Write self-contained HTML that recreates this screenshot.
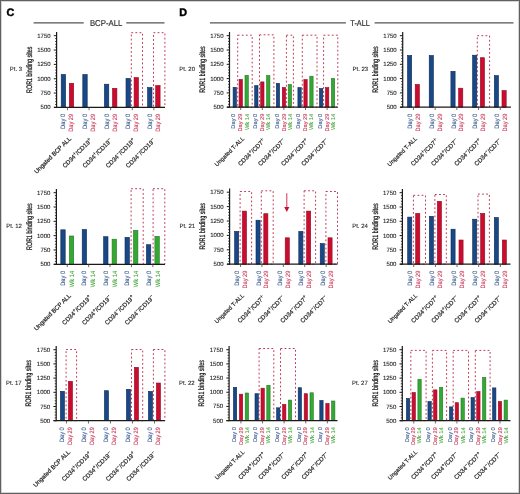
<!DOCTYPE html>
<html><head><meta charset="utf-8"><style>
html,body{margin:0;padding:0;background:#fff;}
body{width:520px;height:494px;overflow:hidden;position:relative;}
.bd{position:absolute;left:0;top:0;width:518px;height:492px;border:1px solid #606060;box-shadow:inset 0 0 0 1px #d4d4d4;}
svg{display:block;font-family:"Liberation Sans", sans-serif;filter:blur(0.45px);text-rendering:geometricPrecision;}
</style></head><body>
<svg width="520" height="494" viewBox="0 0 520 494">
<rect x="0" y="0" width="520" height="494" fill="#fff"/>
<text x="6.4" y="16.1" font-size="10.8" font-weight="bold" fill="#000" stroke="#000" stroke-width="0.45">C</text>
<text x="179.3" y="16.1" font-size="10.8" font-weight="bold" fill="#000" stroke="#000" stroke-width="0.45">D</text>
<line x1="33.6" y1="22.9" x2="83.7" y2="22.9" stroke="#555" stroke-width="1.1"/>
<line x1="126.3" y1="22.9" x2="164.5" y2="22.9" stroke="#555" stroke-width="1.1"/>
<text x="106.15" y="25.6" font-size="8.5" fill="#2a2a2a" stroke="#2a2a2a" stroke-width="0.15" text-anchor="middle" textLength="32.4" lengthAdjust="spacingAndGlyphs">BCP-ALL</text>
<line x1="209.9" y1="22.9" x2="345.9" y2="22.9" stroke="#555" stroke-width="1.1"/>
<line x1="374.6" y1="22.9" x2="513.5" y2="22.9" stroke="#555" stroke-width="1.1"/>
<text x="360.1" y="25.6" font-size="8.5" fill="#2a2a2a" stroke="#2a2a2a" stroke-width="0.15" text-anchor="middle" textLength="19.6" lengthAdjust="spacingAndGlyphs">T-ALL</text>
<rect x="131.3" y="32.7" width="11.2" height="74.7" fill="none" stroke="#c23656" stroke-width="1" stroke-dasharray="1.8 2.3"/>
<rect x="153.5" y="32.7" width="11.4" height="74.7" fill="none" stroke="#c23656" stroke-width="1" stroke-dasharray="1.8 2.3"/>
<rect x="61.2" y="74.5" width="4.4" height="32.9" fill="#184886" stroke="#0c2a56" stroke-width="0.6"/>
<rect x="69.3" y="83.3" width="4.4" height="24.1" fill="#cc0c2e" stroke="#900a24" stroke-width="0.6"/>
<rect x="82.8" y="74.5" width="4.4" height="32.9" fill="#184886" stroke="#0c2a56" stroke-width="0.6"/>
<rect x="104.4" y="84.2" width="4.4" height="23.2" fill="#184886" stroke="#0c2a56" stroke-width="0.6"/>
<rect x="112.5" y="88.3" width="4.4" height="19.1" fill="#cc0c2e" stroke="#900a24" stroke-width="0.6"/>
<rect x="126" y="78.4" width="4.4" height="29" fill="#184886" stroke="#0c2a56" stroke-width="0.6"/>
<rect x="134.1" y="77.6" width="4.4" height="29.8" fill="#cc0c2e" stroke="#900a24" stroke-width="0.6"/>
<rect x="147.6" y="87.5" width="4.4" height="19.9" fill="#184886" stroke="#0c2a56" stroke-width="0.6"/>
<rect x="155.7" y="85.5" width="4.4" height="21.9" fill="#cc0c2e" stroke="#900a24" stroke-width="0.6"/>
<line x1="56.6" y1="32" x2="56.6" y2="108" stroke="#1a1a1a" stroke-width="1.2"/>
<path d="M53.8 107.4H56.6M53.8 93.06H56.6M53.8 78.72H56.6M53.8 64.38H56.6M53.8 50.04H56.6M53.8 35.7H56.6" stroke="#1a1a1a" stroke-width="1.0" fill="none"/>
<path d="M55.1 104.53H56.6M55.1 101.66H56.6M55.1 98.8H56.6M55.1 95.93H56.6M55.1 90.19H56.6M55.1 87.32H56.6M55.1 84.46H56.6M55.1 81.59H56.6M55.1 75.85H56.6M55.1 72.98H56.6M55.1 70.12H56.6M55.1 67.25H56.6M55.1 61.51H56.6M55.1 58.64H56.6M55.1 55.78H56.6M55.1 52.91H56.6M55.1 47.17H56.6M55.1 44.3H56.6M55.1 41.44H56.6M55.1 38.57H56.6" stroke="#1a1a1a" stroke-width="0.8" fill="none"/>
<line x1="54" y1="107.4" x2="164.9" y2="107.4" stroke="#1a1a1a" stroke-width="1.2"/>
<path d="M67.45 107.4V110.2M89.05 107.4V110.2M110.65 107.4V110.2M132.25 107.4V110.2M153.85 107.4V110.2" stroke="#444" stroke-width="0.8" fill="none"/>
<text x="50.6" y="109.4" font-size="6" fill="#2a2a2a" stroke="#2a2a2a" stroke-width="0.12" text-anchor="end">500</text>
<text x="50.6" y="95.06" font-size="6" fill="#2a2a2a" stroke="#2a2a2a" stroke-width="0.12" text-anchor="end">750</text>
<text x="50.6" y="80.72" font-size="6" fill="#2a2a2a" stroke="#2a2a2a" stroke-width="0.12" text-anchor="end">1000</text>
<text x="50.6" y="66.38" font-size="6" fill="#2a2a2a" stroke="#2a2a2a" stroke-width="0.12" text-anchor="end">1250</text>
<text x="50.6" y="52.04" font-size="6" fill="#2a2a2a" stroke="#2a2a2a" stroke-width="0.12" text-anchor="end">1500</text>
<text x="50.6" y="37.7" font-size="6" fill="#2a2a2a" stroke="#2a2a2a" stroke-width="0.12" text-anchor="end">1750</text>
<text transform="translate(31.8,69.7) rotate(-90)" font-size="8" fill="#1a1a1a" stroke="#1a1a1a" stroke-width="0.25" text-anchor="middle" textLength="46.5" lengthAdjust="spacingAndGlyphs">ROR1 binding sites</text>
<text x="22.1" y="71.4" font-size="6" fill="#2a2a2a" stroke="#2a2a2a" stroke-width="0.1" text-anchor="end">Pt. 3</text>
<text transform="translate(65.3,113.9) rotate(-90)" font-size="6.3" fill="#36588c" stroke="#36588c" stroke-width="0.12" text-anchor="end" textLength="15.0" lengthAdjust="spacingAndGlyphs">Day 0</text>
<text transform="translate(73.4,113.9) rotate(-90)" font-size="6.3" fill="#c83a5a" stroke="#c83a5a" stroke-width="0.12" text-anchor="end" textLength="17.9" lengthAdjust="spacingAndGlyphs">Day 29</text>
<text transform="translate(86.9,113.9) rotate(-90)" font-size="6.3" fill="#36588c" stroke="#36588c" stroke-width="0.12" text-anchor="end" textLength="15.0" lengthAdjust="spacingAndGlyphs">Day 0</text>
<text transform="translate(95,113.9) rotate(-90)" font-size="6.3" fill="#c83a5a" stroke="#c83a5a" stroke-width="0.12" text-anchor="end" textLength="17.9" lengthAdjust="spacingAndGlyphs">Day 29</text>
<text transform="translate(108.5,113.9) rotate(-90)" font-size="6.3" fill="#36588c" stroke="#36588c" stroke-width="0.12" text-anchor="end" textLength="15.0" lengthAdjust="spacingAndGlyphs">Day 0</text>
<text transform="translate(116.6,113.9) rotate(-90)" font-size="6.3" fill="#c83a5a" stroke="#c83a5a" stroke-width="0.12" text-anchor="end" textLength="17.9" lengthAdjust="spacingAndGlyphs">Day 29</text>
<text transform="translate(130.1,113.9) rotate(-90)" font-size="6.3" fill="#36588c" stroke="#36588c" stroke-width="0.12" text-anchor="end" textLength="15.0" lengthAdjust="spacingAndGlyphs">Day 0</text>
<text transform="translate(138.2,113.9) rotate(-90)" font-size="6.3" fill="#c83a5a" stroke="#c83a5a" stroke-width="0.12" text-anchor="end" textLength="17.9" lengthAdjust="spacingAndGlyphs">Day 29</text>
<text transform="translate(151.7,113.9) rotate(-90)" font-size="6.3" fill="#36588c" stroke="#36588c" stroke-width="0.12" text-anchor="end" textLength="15.0" lengthAdjust="spacingAndGlyphs">Day 0</text>
<text transform="translate(159.8,113.9) rotate(-90)" font-size="6.3" fill="#c83a5a" stroke="#c83a5a" stroke-width="0.12" text-anchor="end" textLength="17.9" lengthAdjust="spacingAndGlyphs">Day 29</text>
<text transform="translate(71.55,139.2) rotate(-45)" font-size="6.1" fill="#262626" stroke="#262626" stroke-width="0.2" text-anchor="end">Ungated BCP ALL</text>
<text transform="translate(92.35,140.9) rotate(-45)" font-size="6.1" fill="#262626" stroke="#262626" stroke-width="0.2" text-anchor="end">CD34<tspan dy="-2.2" font-size="5">+</tspan><tspan dy="2.2">/CD19</tspan><tspan dy="-2.2" font-size="5">+</tspan></text>
<text transform="translate(112.45,140.9) rotate(-45)" font-size="6.1" fill="#262626" stroke="#262626" stroke-width="0.2" text-anchor="end">CD34<tspan dy="-2.2" font-size="5">+</tspan><tspan dy="2.2">/CD19</tspan><tspan dy="-2.2" font-size="5">−</tspan></text>
<text transform="translate(135.55,140.9) rotate(-45)" font-size="6.1" fill="#262626" stroke="#262626" stroke-width="0.2" text-anchor="end">CD34<tspan dy="-2.2" font-size="5">−</tspan><tspan dy="2.2">/CD19</tspan><tspan dy="-2.2" font-size="5">+</tspan></text>
<text transform="translate(155.65,140.9) rotate(-45)" font-size="6.1" fill="#262626" stroke="#262626" stroke-width="0.2" text-anchor="end">CD34<tspan dy="-2.2" font-size="5">−</tspan><tspan dy="2.2">/CD19</tspan><tspan dy="-2.2" font-size="5">−</tspan></text>
<rect x="131.1" y="188.7" width="12.1" height="75.6" fill="none" stroke="#c23656" stroke-width="1" stroke-dasharray="1.8 2.3"/>
<rect x="153.1" y="188.7" width="11.7" height="75.6" fill="none" stroke="#c23656" stroke-width="1" stroke-dasharray="1.8 2.3"/>
<rect x="60.8" y="229.8" width="4.4" height="34.5" fill="#184886" stroke="#0c2a56" stroke-width="0.6"/>
<rect x="69.3" y="236" width="4.4" height="28.3" fill="#34a834" stroke="#237823" stroke-width="0.6"/>
<rect x="82.2" y="229.5" width="4.4" height="34.8" fill="#184886" stroke="#0c2a56" stroke-width="0.6"/>
<rect x="103.6" y="236.7" width="4.4" height="27.6" fill="#184886" stroke="#0c2a56" stroke-width="0.6"/>
<rect x="112.1" y="239.2" width="4.4" height="25.1" fill="#34a834" stroke="#237823" stroke-width="0.6"/>
<rect x="125" y="237.3" width="4.4" height="27" fill="#184886" stroke="#0c2a56" stroke-width="0.6"/>
<rect x="133.5" y="230.4" width="4.4" height="33.9" fill="#34a834" stroke="#237823" stroke-width="0.6"/>
<rect x="146.4" y="244.7" width="4.4" height="19.6" fill="#184886" stroke="#0c2a56" stroke-width="0.6"/>
<rect x="154.9" y="236.4" width="4.4" height="27.9" fill="#34a834" stroke="#237823" stroke-width="0.6"/>
<line x1="56.4" y1="189" x2="56.4" y2="264.9" stroke="#1a1a1a" stroke-width="1.2"/>
<path d="M53.6 264.3H56.4M53.6 249.98H56.4M53.6 235.66H56.4M53.6 221.34H56.4M53.6 207.02H56.4M53.6 192.7H56.4" stroke="#1a1a1a" stroke-width="1.0" fill="none"/>
<path d="M54.9 261.44H56.4M54.9 258.57H56.4M54.9 255.71H56.4M54.9 252.84H56.4M54.9 247.12H56.4M54.9 244.25H56.4M54.9 241.39H56.4M54.9 238.52H56.4M54.9 232.8H56.4M54.9 229.93H56.4M54.9 227.07H56.4M54.9 224.2H56.4M54.9 218.48H56.4M54.9 215.61H56.4M54.9 212.75H56.4M54.9 209.88H56.4M54.9 204.16H56.4M54.9 201.29H56.4M54.9 198.43H56.4M54.9 195.56H56.4" stroke="#1a1a1a" stroke-width="0.8" fill="none"/>
<line x1="53.8" y1="264.3" x2="165" y2="264.3" stroke="#1a1a1a" stroke-width="1.2"/>
<path d="M67.25 264.3V267.1M88.65 264.3V267.1M110.05 264.3V267.1M131.45 264.3V267.1M152.85 264.3V267.1" stroke="#444" stroke-width="0.8" fill="none"/>
<text x="50.4" y="266.3" font-size="6" fill="#2a2a2a" stroke="#2a2a2a" stroke-width="0.12" text-anchor="end">500</text>
<text x="50.4" y="251.98" font-size="6" fill="#2a2a2a" stroke="#2a2a2a" stroke-width="0.12" text-anchor="end">750</text>
<text x="50.4" y="237.66" font-size="6" fill="#2a2a2a" stroke="#2a2a2a" stroke-width="0.12" text-anchor="end">1000</text>
<text x="50.4" y="223.34" font-size="6" fill="#2a2a2a" stroke="#2a2a2a" stroke-width="0.12" text-anchor="end">1250</text>
<text x="50.4" y="209.02" font-size="6" fill="#2a2a2a" stroke="#2a2a2a" stroke-width="0.12" text-anchor="end">1500</text>
<text x="50.4" y="194.7" font-size="6" fill="#2a2a2a" stroke="#2a2a2a" stroke-width="0.12" text-anchor="end">1750</text>
<text transform="translate(31.6,226.65) rotate(-90)" font-size="8" fill="#1a1a1a" stroke="#1a1a1a" stroke-width="0.25" text-anchor="middle" textLength="46.5" lengthAdjust="spacingAndGlyphs">ROR1 binding sites</text>
<text x="21.9" y="228.35" font-size="6" fill="#2a2a2a" stroke="#2a2a2a" stroke-width="0.1" text-anchor="end">Pt. 12</text>
<text transform="translate(64.9,270.8) rotate(-90)" font-size="6.3" fill="#36588c" stroke="#36588c" stroke-width="0.12" text-anchor="end" textLength="15.0" lengthAdjust="spacingAndGlyphs">Day 0</text>
<text transform="translate(73.9,270.8) rotate(-90)" font-size="6.3" fill="#46a63c" stroke="#46a63c" stroke-width="0.12" text-anchor="end" textLength="16.4" lengthAdjust="spacingAndGlyphs">Wk 14</text>
<text transform="translate(86.3,270.8) rotate(-90)" font-size="6.3" fill="#36588c" stroke="#36588c" stroke-width="0.12" text-anchor="end" textLength="15.0" lengthAdjust="spacingAndGlyphs">Day 0</text>
<text transform="translate(95.3,270.8) rotate(-90)" font-size="6.3" fill="#46a63c" stroke="#46a63c" stroke-width="0.12" text-anchor="end" textLength="16.4" lengthAdjust="spacingAndGlyphs">Wk 14</text>
<text transform="translate(107.7,270.8) rotate(-90)" font-size="6.3" fill="#36588c" stroke="#36588c" stroke-width="0.12" text-anchor="end" textLength="15.0" lengthAdjust="spacingAndGlyphs">Day 0</text>
<text transform="translate(116.7,270.8) rotate(-90)" font-size="6.3" fill="#46a63c" stroke="#46a63c" stroke-width="0.12" text-anchor="end" textLength="16.4" lengthAdjust="spacingAndGlyphs">Wk 14</text>
<text transform="translate(129.1,270.8) rotate(-90)" font-size="6.3" fill="#36588c" stroke="#36588c" stroke-width="0.12" text-anchor="end" textLength="15.0" lengthAdjust="spacingAndGlyphs">Day 0</text>
<text transform="translate(138.1,270.8) rotate(-90)" font-size="6.3" fill="#46a63c" stroke="#46a63c" stroke-width="0.12" text-anchor="end" textLength="16.4" lengthAdjust="spacingAndGlyphs">Wk 14</text>
<text transform="translate(150.5,270.8) rotate(-90)" font-size="6.3" fill="#36588c" stroke="#36588c" stroke-width="0.12" text-anchor="end" textLength="15.0" lengthAdjust="spacingAndGlyphs">Day 0</text>
<text transform="translate(159.5,270.8) rotate(-90)" font-size="6.3" fill="#46a63c" stroke="#46a63c" stroke-width="0.12" text-anchor="end" textLength="16.4" lengthAdjust="spacingAndGlyphs">Wk 14</text>
<text transform="translate(71.35,296.1) rotate(-45)" font-size="6.1" fill="#262626" stroke="#262626" stroke-width="0.2" text-anchor="end">Ungated BCP ALL</text>
<text transform="translate(91.95,297.8) rotate(-45)" font-size="6.1" fill="#262626" stroke="#262626" stroke-width="0.2" text-anchor="end">CD34<tspan dy="-2.2" font-size="5">+</tspan><tspan dy="2.2">/CD19</tspan><tspan dy="-2.2" font-size="5">+</tspan></text>
<text transform="translate(111.85,297.8) rotate(-45)" font-size="6.1" fill="#262626" stroke="#262626" stroke-width="0.2" text-anchor="end">CD34<tspan dy="-2.2" font-size="5">+</tspan><tspan dy="2.2">/CD19</tspan><tspan dy="-2.2" font-size="5">−</tspan></text>
<text transform="translate(134.75,297.8) rotate(-45)" font-size="6.1" fill="#262626" stroke="#262626" stroke-width="0.2" text-anchor="end">CD34<tspan dy="-2.2" font-size="5">−</tspan><tspan dy="2.2">/CD19</tspan><tspan dy="-2.2" font-size="5">+</tspan></text>
<text transform="translate(154.65,297.8) rotate(-45)" font-size="6.1" fill="#262626" stroke="#262626" stroke-width="0.2" text-anchor="end">CD34<tspan dy="-2.2" font-size="5">−</tspan><tspan dy="2.2">/CD19</tspan><tspan dy="-2.2" font-size="5">−</tspan></text>
<rect x="66.1" y="349.5" width="10.5" height="71.2" fill="none" stroke="#c23656" stroke-width="1" stroke-dasharray="1.8 2.3"/>
<rect x="131.5" y="349.5" width="11.2" height="71.2" fill="none" stroke="#c23656" stroke-width="1" stroke-dasharray="1.8 2.3"/>
<rect x="153.4" y="349.5" width="11.5" height="71.2" fill="none" stroke="#c23656" stroke-width="1" stroke-dasharray="1.8 2.3"/>
<rect x="60.4" y="391.3" width="4.1" height="29.4" fill="#184886" stroke="#0c2a56" stroke-width="0.6"/>
<rect x="68.4" y="381.3" width="4.1" height="39.4" fill="#cc0c2e" stroke="#900a24" stroke-width="0.6"/>
<rect x="104.4" y="390.7" width="4.1" height="30" fill="#184886" stroke="#0c2a56" stroke-width="0.6"/>
<rect x="126.4" y="389.3" width="4.1" height="31.4" fill="#184886" stroke="#0c2a56" stroke-width="0.6"/>
<rect x="134.4" y="367.3" width="4.1" height="53.4" fill="#cc0c2e" stroke="#900a24" stroke-width="0.6"/>
<rect x="148.4" y="391.4" width="4.1" height="29.3" fill="#184886" stroke="#0c2a56" stroke-width="0.6"/>
<rect x="156.4" y="383" width="4.1" height="37.7" fill="#cc0c2e" stroke="#900a24" stroke-width="0.6"/>
<line x1="56.2" y1="346" x2="56.2" y2="421.3" stroke="#1a1a1a" stroke-width="1.2"/>
<path d="M53.4 420.7H56.2M53.4 406.5H56.2M53.4 392.3H56.2M53.4 378.1H56.2M53.4 363.9H56.2M53.4 349.7H56.2" stroke="#1a1a1a" stroke-width="1.0" fill="none"/>
<path d="M54.7 417.86H56.2M54.7 415.02H56.2M54.7 412.18H56.2M54.7 409.34H56.2M54.7 403.66H56.2M54.7 400.82H56.2M54.7 397.98H56.2M54.7 395.14H56.2M54.7 389.46H56.2M54.7 386.62H56.2M54.7 383.78H56.2M54.7 380.94H56.2M54.7 375.26H56.2M54.7 372.42H56.2M54.7 369.58H56.2M54.7 366.74H56.2M54.7 361.06H56.2M54.7 358.22H56.2M54.7 355.38H56.2M54.7 352.54H56.2" stroke="#1a1a1a" stroke-width="0.8" fill="none"/>
<line x1="53.6" y1="420.7" x2="164.9" y2="420.7" stroke="#1a1a1a" stroke-width="1.2"/>
<path d="M66.45 420.7V423.5M88.45 420.7V423.5M110.45 420.7V423.5M132.45 420.7V423.5M154.45 420.7V423.5" stroke="#444" stroke-width="0.8" fill="none"/>
<text x="50.2" y="422.7" font-size="6" fill="#2a2a2a" stroke="#2a2a2a" stroke-width="0.12" text-anchor="end">500</text>
<text x="50.2" y="408.5" font-size="6" fill="#2a2a2a" stroke="#2a2a2a" stroke-width="0.12" text-anchor="end">750</text>
<text x="50.2" y="394.3" font-size="6" fill="#2a2a2a" stroke="#2a2a2a" stroke-width="0.12" text-anchor="end">1000</text>
<text x="50.2" y="380.1" font-size="6" fill="#2a2a2a" stroke="#2a2a2a" stroke-width="0.12" text-anchor="end">1250</text>
<text x="50.2" y="365.9" font-size="6" fill="#2a2a2a" stroke="#2a2a2a" stroke-width="0.12" text-anchor="end">1500</text>
<text x="50.2" y="351.7" font-size="6" fill="#2a2a2a" stroke="#2a2a2a" stroke-width="0.12" text-anchor="end">1750</text>
<text transform="translate(31.4,383.35) rotate(-90)" font-size="8" fill="#1a1a1a" stroke="#1a1a1a" stroke-width="0.25" text-anchor="middle" textLength="46.5" lengthAdjust="spacingAndGlyphs">ROR1 binding sites</text>
<text x="21.7" y="385.05" font-size="6" fill="#2a2a2a" stroke="#2a2a2a" stroke-width="0.1" text-anchor="end">Pt. 17</text>
<text transform="translate(64.35,427.2) rotate(-90)" font-size="6.3" fill="#36588c" stroke="#36588c" stroke-width="0.12" text-anchor="end" textLength="15.0" lengthAdjust="spacingAndGlyphs">Day 0</text>
<text transform="translate(72.35,427.2) rotate(-90)" font-size="6.3" fill="#c83a5a" stroke="#c83a5a" stroke-width="0.12" text-anchor="end" textLength="17.9" lengthAdjust="spacingAndGlyphs">Day 29</text>
<text transform="translate(86.35,427.2) rotate(-90)" font-size="6.3" fill="#36588c" stroke="#36588c" stroke-width="0.12" text-anchor="end" textLength="15.0" lengthAdjust="spacingAndGlyphs">Day 0</text>
<text transform="translate(94.35,427.2) rotate(-90)" font-size="6.3" fill="#c83a5a" stroke="#c83a5a" stroke-width="0.12" text-anchor="end" textLength="17.9" lengthAdjust="spacingAndGlyphs">Day 29</text>
<text transform="translate(108.35,427.2) rotate(-90)" font-size="6.3" fill="#36588c" stroke="#36588c" stroke-width="0.12" text-anchor="end" textLength="15.0" lengthAdjust="spacingAndGlyphs">Day 0</text>
<text transform="translate(116.35,427.2) rotate(-90)" font-size="6.3" fill="#c83a5a" stroke="#c83a5a" stroke-width="0.12" text-anchor="end" textLength="17.9" lengthAdjust="spacingAndGlyphs">Day 29</text>
<text transform="translate(130.35,427.2) rotate(-90)" font-size="6.3" fill="#36588c" stroke="#36588c" stroke-width="0.12" text-anchor="end" textLength="15.0" lengthAdjust="spacingAndGlyphs">Day 0</text>
<text transform="translate(138.35,427.2) rotate(-90)" font-size="6.3" fill="#c83a5a" stroke="#c83a5a" stroke-width="0.12" text-anchor="end" textLength="17.9" lengthAdjust="spacingAndGlyphs">Day 29</text>
<text transform="translate(152.35,427.2) rotate(-90)" font-size="6.3" fill="#36588c" stroke="#36588c" stroke-width="0.12" text-anchor="end" textLength="15.0" lengthAdjust="spacingAndGlyphs">Day 0</text>
<text transform="translate(160.35,427.2) rotate(-90)" font-size="6.3" fill="#c83a5a" stroke="#c83a5a" stroke-width="0.12" text-anchor="end" textLength="17.9" lengthAdjust="spacingAndGlyphs">Day 29</text>
<text transform="translate(70.55,452.5) rotate(-45)" font-size="6.1" fill="#262626" stroke="#262626" stroke-width="0.2" text-anchor="end">Ungated BCP ALL</text>
<text transform="translate(91.75,454.2) rotate(-45)" font-size="6.1" fill="#262626" stroke="#262626" stroke-width="0.2" text-anchor="end">CD34<tspan dy="-2.2" font-size="5">+</tspan><tspan dy="2.2">/CD19</tspan><tspan dy="-2.2" font-size="5">+</tspan></text>
<text transform="translate(112.25,454.2) rotate(-45)" font-size="6.1" fill="#262626" stroke="#262626" stroke-width="0.2" text-anchor="end">CD34<tspan dy="-2.2" font-size="5">+</tspan><tspan dy="2.2">/CD19</tspan><tspan dy="-2.2" font-size="5">−</tspan></text>
<text transform="translate(135.75,454.2) rotate(-45)" font-size="6.1" fill="#262626" stroke="#262626" stroke-width="0.2" text-anchor="end">CD34<tspan dy="-2.2" font-size="5">−</tspan><tspan dy="2.2">/CD19</tspan><tspan dy="-2.2" font-size="5">+</tspan></text>
<text transform="translate(156.25,454.2) rotate(-45)" font-size="6.1" fill="#262626" stroke="#262626" stroke-width="0.2" text-anchor="end">CD34<tspan dy="-2.2" font-size="5">−</tspan><tspan dy="2.2">/CD19</tspan><tspan dy="-2.2" font-size="5">−</tspan></text>
<rect x="237.7" y="35.2" width="14.5" height="72" fill="none" stroke="#c23656" stroke-width="1" stroke-dasharray="1.8 2.3"/>
<rect x="259.5" y="34.8" width="14.4" height="72.4" fill="none" stroke="#c23656" stroke-width="1" stroke-dasharray="1.8 2.3"/>
<rect x="286.4" y="35.2" width="7" height="72" fill="none" stroke="#c23656" stroke-width="1" stroke-dasharray="1.8 2.3"/>
<rect x="302.3" y="35.2" width="14.7" height="72" fill="none" stroke="#c23656" stroke-width="1" stroke-dasharray="1.8 2.3"/>
<rect x="323.6" y="35.2" width="14.2" height="72" fill="none" stroke="#c23656" stroke-width="1" stroke-dasharray="1.8 2.3"/>
<rect x="233.1" y="87.3" width="3.3" height="19.9" fill="#184886" stroke="#0c2a56" stroke-width="0.6"/>
<rect x="239.1" y="79.4" width="3.3" height="27.8" fill="#cc0c2e" stroke="#900a24" stroke-width="0.6"/>
<rect x="245" y="75.4" width="3.3" height="31.8" fill="#34a834" stroke="#237823" stroke-width="0.6"/>
<rect x="254.7" y="85.6" width="3.3" height="21.6" fill="#184886" stroke="#0c2a56" stroke-width="0.6"/>
<rect x="260.7" y="81.9" width="3.3" height="25.3" fill="#cc0c2e" stroke="#900a24" stroke-width="0.6"/>
<rect x="266.6" y="75.6" width="3.3" height="31.6" fill="#34a834" stroke="#237823" stroke-width="0.6"/>
<rect x="276.3" y="83.3" width="3.3" height="23.9" fill="#184886" stroke="#0c2a56" stroke-width="0.6"/>
<rect x="282.3" y="87.5" width="3.3" height="19.7" fill="#cc0c2e" stroke="#900a24" stroke-width="0.6"/>
<rect x="288.2" y="84.5" width="3.3" height="22.7" fill="#34a834" stroke="#237823" stroke-width="0.6"/>
<rect x="297.9" y="87.6" width="3.3" height="19.6" fill="#184886" stroke="#0c2a56" stroke-width="0.6"/>
<rect x="303.9" y="79.6" width="3.3" height="27.6" fill="#cc0c2e" stroke="#900a24" stroke-width="0.6"/>
<rect x="309.8" y="76.2" width="3.3" height="31" fill="#34a834" stroke="#237823" stroke-width="0.6"/>
<rect x="319.5" y="88.6" width="3.3" height="18.6" fill="#184886" stroke="#0c2a56" stroke-width="0.6"/>
<rect x="325.5" y="87.6" width="3.3" height="19.6" fill="#cc0c2e" stroke="#900a24" stroke-width="0.6"/>
<rect x="331.4" y="78.5" width="3.3" height="28.7" fill="#34a834" stroke="#237823" stroke-width="0.6"/>
<line x1="229.5" y1="32" x2="229.5" y2="107.8" stroke="#1a1a1a" stroke-width="1.2"/>
<path d="M226.7 107.2H229.5M226.7 92.9H229.5M226.7 78.6H229.5M226.7 64.3H229.5M226.7 50H229.5M226.7 35.7H229.5" stroke="#1a1a1a" stroke-width="1.0" fill="none"/>
<path d="M228 104.34H229.5M228 101.48H229.5M228 98.62H229.5M228 95.76H229.5M228 90.04H229.5M228 87.18H229.5M228 84.32H229.5M228 81.46H229.5M228 75.74H229.5M228 72.88H229.5M228 70.02H229.5M228 67.16H229.5M228 61.44H229.5M228 58.58H229.5M228 55.72H229.5M228 52.86H229.5M228 47.14H229.5M228 44.28H229.5M228 41.42H229.5M228 38.56H229.5" stroke="#1a1a1a" stroke-width="0.8" fill="none"/>
<line x1="226.9" y1="107.2" x2="337.6" y2="107.2" stroke="#1a1a1a" stroke-width="1.2"/>
<path d="M240.7 107.2V110M262.3 107.2V110M283.9 107.2V110M305.5 107.2V110M327.1 107.2V110" stroke="#444" stroke-width="0.8" fill="none"/>
<text x="223.5" y="109.2" font-size="6" fill="#2a2a2a" stroke="#2a2a2a" stroke-width="0.12" text-anchor="end">500</text>
<text x="223.5" y="94.9" font-size="6" fill="#2a2a2a" stroke="#2a2a2a" stroke-width="0.12" text-anchor="end">750</text>
<text x="223.5" y="80.6" font-size="6" fill="#2a2a2a" stroke="#2a2a2a" stroke-width="0.12" text-anchor="end">1000</text>
<text x="223.5" y="66.3" font-size="6" fill="#2a2a2a" stroke="#2a2a2a" stroke-width="0.12" text-anchor="end">1250</text>
<text x="223.5" y="52" font-size="6" fill="#2a2a2a" stroke="#2a2a2a" stroke-width="0.12" text-anchor="end">1500</text>
<text x="223.5" y="37.7" font-size="6" fill="#2a2a2a" stroke="#2a2a2a" stroke-width="0.12" text-anchor="end">1750</text>
<text transform="translate(204.7,69.6) rotate(-90)" font-size="8" fill="#1a1a1a" stroke="#1a1a1a" stroke-width="0.25" text-anchor="middle" textLength="46.5" lengthAdjust="spacingAndGlyphs">ROR1 binding sites</text>
<text x="195" y="71.3" font-size="6" fill="#2a2a2a" stroke="#2a2a2a" stroke-width="0.1" text-anchor="end">Pt. 20</text>
<text transform="translate(235.45,113.7) rotate(-90)" font-size="5.5" fill="#36588c" stroke="#36588c" stroke-width="0.12" text-anchor="end" textLength="15.0" lengthAdjust="spacingAndGlyphs">Day 0</text>
<text transform="translate(242.3,113.7) rotate(-90)" font-size="5.5" fill="#c83a5a" stroke="#c83a5a" stroke-width="0.12" text-anchor="end" textLength="17.9" lengthAdjust="spacingAndGlyphs">Day 29</text>
<text transform="translate(248.55,113.7) rotate(-90)" font-size="5.5" fill="#46a63c" stroke="#46a63c" stroke-width="0.12" text-anchor="end" textLength="16.4" lengthAdjust="spacingAndGlyphs">Wk 14</text>
<text transform="translate(257.05,113.7) rotate(-90)" font-size="5.5" fill="#36588c" stroke="#36588c" stroke-width="0.12" text-anchor="end" textLength="15.0" lengthAdjust="spacingAndGlyphs">Day 0</text>
<text transform="translate(263.9,113.7) rotate(-90)" font-size="5.5" fill="#c83a5a" stroke="#c83a5a" stroke-width="0.12" text-anchor="end" textLength="17.9" lengthAdjust="spacingAndGlyphs">Day 29</text>
<text transform="translate(270.15,113.7) rotate(-90)" font-size="5.5" fill="#46a63c" stroke="#46a63c" stroke-width="0.12" text-anchor="end" textLength="16.4" lengthAdjust="spacingAndGlyphs">Wk 14</text>
<text transform="translate(278.65,113.7) rotate(-90)" font-size="5.5" fill="#36588c" stroke="#36588c" stroke-width="0.12" text-anchor="end" textLength="15.0" lengthAdjust="spacingAndGlyphs">Day 0</text>
<text transform="translate(285.5,113.7) rotate(-90)" font-size="5.5" fill="#c83a5a" stroke="#c83a5a" stroke-width="0.12" text-anchor="end" textLength="17.9" lengthAdjust="spacingAndGlyphs">Day 29</text>
<text transform="translate(291.75,113.7) rotate(-90)" font-size="5.5" fill="#46a63c" stroke="#46a63c" stroke-width="0.12" text-anchor="end" textLength="16.4" lengthAdjust="spacingAndGlyphs">Wk 14</text>
<text transform="translate(300.25,113.7) rotate(-90)" font-size="5.5" fill="#36588c" stroke="#36588c" stroke-width="0.12" text-anchor="end" textLength="15.0" lengthAdjust="spacingAndGlyphs">Day 0</text>
<text transform="translate(307.1,113.7) rotate(-90)" font-size="5.5" fill="#c83a5a" stroke="#c83a5a" stroke-width="0.12" text-anchor="end" textLength="17.9" lengthAdjust="spacingAndGlyphs">Day 29</text>
<text transform="translate(313.35,113.7) rotate(-90)" font-size="5.5" fill="#46a63c" stroke="#46a63c" stroke-width="0.12" text-anchor="end" textLength="16.4" lengthAdjust="spacingAndGlyphs">Wk 14</text>
<text transform="translate(321.85,113.7) rotate(-90)" font-size="5.5" fill="#36588c" stroke="#36588c" stroke-width="0.12" text-anchor="end" textLength="15.0" lengthAdjust="spacingAndGlyphs">Day 0</text>
<text transform="translate(328.7,113.7) rotate(-90)" font-size="5.5" fill="#c83a5a" stroke="#c83a5a" stroke-width="0.12" text-anchor="end" textLength="17.9" lengthAdjust="spacingAndGlyphs">Day 29</text>
<text transform="translate(334.95,113.7) rotate(-90)" font-size="5.5" fill="#46a63c" stroke="#46a63c" stroke-width="0.12" text-anchor="end" textLength="16.4" lengthAdjust="spacingAndGlyphs">Wk 14</text>
<text transform="translate(244.8,139) rotate(-45)" font-size="5.85" fill="#262626" stroke="#262626" stroke-width="0.2" text-anchor="end">Ungated T-ALL</text>
<text transform="translate(265.4,141.3) rotate(-45)" font-size="6.1" fill="#262626" stroke="#262626" stroke-width="0.2" text-anchor="end">CD34<tspan dy="-2.2" font-size="5">+</tspan><tspan dy="2.2">/CD7</tspan><tspan dy="-2.2" font-size="5">+</tspan></text>
<text transform="translate(285.5,141.3) rotate(-45)" font-size="6.1" fill="#262626" stroke="#262626" stroke-width="0.2" text-anchor="end">CD34<tspan dy="-2.2" font-size="5">+</tspan><tspan dy="2.2">/CD7</tspan><tspan dy="-2.2" font-size="5">−</tspan></text>
<text transform="translate(308.6,141.3) rotate(-45)" font-size="6.1" fill="#262626" stroke="#262626" stroke-width="0.2" text-anchor="end">CD34<tspan dy="-2.2" font-size="5">−</tspan><tspan dy="2.2">/CD7</tspan><tspan dy="-2.2" font-size="5">+</tspan></text>
<text transform="translate(328.7,141.3) rotate(-45)" font-size="6.1" fill="#262626" stroke="#262626" stroke-width="0.2" text-anchor="end">CD34<tspan dy="-2.2" font-size="5">−</tspan><tspan dy="2.2">/CD7</tspan><tspan dy="-2.2" font-size="5">−</tspan></text>
<rect x="477.3" y="35.7" width="12.3" height="71.5" fill="none" stroke="#c23656" stroke-width="1" stroke-dasharray="1.8 2.3"/>
<rect x="407.5" y="55.5" width="4.2" height="51.7" fill="#184886" stroke="#0c2a56" stroke-width="0.6"/>
<rect x="415.2" y="84.4" width="4.2" height="22.8" fill="#cc0c2e" stroke="#900a24" stroke-width="0.6"/>
<rect x="429.2" y="55.5" width="4.2" height="51.7" fill="#184886" stroke="#0c2a56" stroke-width="0.6"/>
<rect x="450.9" y="71.3" width="4.2" height="35.9" fill="#184886" stroke="#0c2a56" stroke-width="0.6"/>
<rect x="458.6" y="88.2" width="4.2" height="19" fill="#cc0c2e" stroke="#900a24" stroke-width="0.6"/>
<rect x="472.6" y="55.2" width="4.2" height="52" fill="#184886" stroke="#0c2a56" stroke-width="0.6"/>
<rect x="480.3" y="57.7" width="4.2" height="49.5" fill="#cc0c2e" stroke="#900a24" stroke-width="0.6"/>
<rect x="494.3" y="75.6" width="4.2" height="31.6" fill="#184886" stroke="#0c2a56" stroke-width="0.6"/>
<rect x="502" y="90.5" width="4.2" height="16.7" fill="#cc0c2e" stroke="#900a24" stroke-width="0.6"/>
<line x1="402.7" y1="32" x2="402.7" y2="107.8" stroke="#1a1a1a" stroke-width="1.2"/>
<path d="M399.9 107.2H402.7M399.9 92.9H402.7M399.9 78.6H402.7M399.9 64.3H402.7M399.9 50H402.7M399.9 35.7H402.7" stroke="#1a1a1a" stroke-width="1.0" fill="none"/>
<path d="M401.2 104.34H402.7M401.2 101.48H402.7M401.2 98.62H402.7M401.2 95.76H402.7M401.2 90.04H402.7M401.2 87.18H402.7M401.2 84.32H402.7M401.2 81.46H402.7M401.2 75.74H402.7M401.2 72.88H402.7M401.2 70.02H402.7M401.2 67.16H402.7M401.2 61.44H402.7M401.2 58.58H402.7M401.2 55.72H402.7M401.2 52.86H402.7M401.2 47.14H402.7M401.2 44.28H402.7M401.2 41.42H402.7M401.2 38.56H402.7" stroke="#1a1a1a" stroke-width="0.8" fill="none"/>
<line x1="400.1" y1="107.2" x2="510.9" y2="107.2" stroke="#1a1a1a" stroke-width="1.2"/>
<path d="M413.45 107.2V110M435.15 107.2V110M456.85 107.2V110M478.55 107.2V110M500.25 107.2V110" stroke="#444" stroke-width="0.8" fill="none"/>
<text x="396.7" y="109.2" font-size="6" fill="#2a2a2a" stroke="#2a2a2a" stroke-width="0.12" text-anchor="end">500</text>
<text x="396.7" y="94.9" font-size="6" fill="#2a2a2a" stroke="#2a2a2a" stroke-width="0.12" text-anchor="end">750</text>
<text x="396.7" y="80.6" font-size="6" fill="#2a2a2a" stroke="#2a2a2a" stroke-width="0.12" text-anchor="end">1000</text>
<text x="396.7" y="66.3" font-size="6" fill="#2a2a2a" stroke="#2a2a2a" stroke-width="0.12" text-anchor="end">1250</text>
<text x="396.7" y="52" font-size="6" fill="#2a2a2a" stroke="#2a2a2a" stroke-width="0.12" text-anchor="end">1500</text>
<text x="396.7" y="37.7" font-size="6" fill="#2a2a2a" stroke="#2a2a2a" stroke-width="0.12" text-anchor="end">1750</text>
<text transform="translate(377.9,69.6) rotate(-90)" font-size="8" fill="#1a1a1a" stroke="#1a1a1a" stroke-width="0.25" text-anchor="middle" textLength="46.5" lengthAdjust="spacingAndGlyphs">ROR1 binding sites</text>
<text x="368.2" y="71.3" font-size="6" fill="#2a2a2a" stroke="#2a2a2a" stroke-width="0.1" text-anchor="end">Pt. 23</text>
<text transform="translate(412.1,113.7) rotate(-90)" font-size="6.3" fill="#36588c" stroke="#36588c" stroke-width="0.12" text-anchor="end" textLength="15.0" lengthAdjust="spacingAndGlyphs">Day 0</text>
<text transform="translate(419.8,113.7) rotate(-90)" font-size="6.3" fill="#c83a5a" stroke="#c83a5a" stroke-width="0.12" text-anchor="end" textLength="17.9" lengthAdjust="spacingAndGlyphs">Day 29</text>
<text transform="translate(433.8,113.7) rotate(-90)" font-size="6.3" fill="#36588c" stroke="#36588c" stroke-width="0.12" text-anchor="end" textLength="15.0" lengthAdjust="spacingAndGlyphs">Day 0</text>
<text transform="translate(441.5,113.7) rotate(-90)" font-size="6.3" fill="#c83a5a" stroke="#c83a5a" stroke-width="0.12" text-anchor="end" textLength="17.9" lengthAdjust="spacingAndGlyphs">Day 29</text>
<text transform="translate(455.5,113.7) rotate(-90)" font-size="6.3" fill="#36588c" stroke="#36588c" stroke-width="0.12" text-anchor="end" textLength="15.0" lengthAdjust="spacingAndGlyphs">Day 0</text>
<text transform="translate(463.2,113.7) rotate(-90)" font-size="6.3" fill="#c83a5a" stroke="#c83a5a" stroke-width="0.12" text-anchor="end" textLength="17.9" lengthAdjust="spacingAndGlyphs">Day 29</text>
<text transform="translate(477.2,113.7) rotate(-90)" font-size="6.3" fill="#36588c" stroke="#36588c" stroke-width="0.12" text-anchor="end" textLength="15.0" lengthAdjust="spacingAndGlyphs">Day 0</text>
<text transform="translate(484.9,113.7) rotate(-90)" font-size="6.3" fill="#c83a5a" stroke="#c83a5a" stroke-width="0.12" text-anchor="end" textLength="17.9" lengthAdjust="spacingAndGlyphs">Day 29</text>
<text transform="translate(498.9,113.7) rotate(-90)" font-size="6.3" fill="#36588c" stroke="#36588c" stroke-width="0.12" text-anchor="end" textLength="15.0" lengthAdjust="spacingAndGlyphs">Day 0</text>
<text transform="translate(506.6,113.7) rotate(-90)" font-size="6.3" fill="#c83a5a" stroke="#c83a5a" stroke-width="0.12" text-anchor="end" textLength="17.9" lengthAdjust="spacingAndGlyphs">Day 29</text>
<text transform="translate(417.55,139) rotate(-45)" font-size="5.85" fill="#262626" stroke="#262626" stroke-width="0.2" text-anchor="end">Ungated T-ALL</text>
<text transform="translate(438.25,141.3) rotate(-45)" font-size="6.1" fill="#262626" stroke="#262626" stroke-width="0.2" text-anchor="end">CD34<tspan dy="-2.2" font-size="5">+</tspan><tspan dy="2.2">/CD7</tspan><tspan dy="-2.2" font-size="5">+</tspan></text>
<text transform="translate(458.45,141.3) rotate(-45)" font-size="6.1" fill="#262626" stroke="#262626" stroke-width="0.2" text-anchor="end">CD34<tspan dy="-2.2" font-size="5">+</tspan><tspan dy="2.2">/CD7</tspan><tspan dy="-2.2" font-size="5">−</tspan></text>
<text transform="translate(481.65,141.3) rotate(-45)" font-size="6.1" fill="#262626" stroke="#262626" stroke-width="0.2" text-anchor="end">CD34<tspan dy="-2.2" font-size="5">−</tspan><tspan dy="2.2">/CD7</tspan><tspan dy="-2.2" font-size="5">+</tspan></text>
<text transform="translate(501.85,141.3) rotate(-45)" font-size="6.1" fill="#262626" stroke="#262626" stroke-width="0.2" text-anchor="end">CD34<tspan dy="-2.2" font-size="5">−</tspan><tspan dy="2.2">/CD7</tspan><tspan dy="-2.2" font-size="5">−</tspan></text>
<rect x="240.1" y="191.5" width="11.5" height="72.7" fill="none" stroke="#c23656" stroke-width="1" stroke-dasharray="1.8 2.3"/>
<rect x="261.3" y="190.8" width="11.9" height="73.4" fill="none" stroke="#c23656" stroke-width="1" stroke-dasharray="1.8 2.3"/>
<rect x="304.1" y="190.8" width="11.5" height="73.4" fill="none" stroke="#c23656" stroke-width="1" stroke-dasharray="1.8 2.3"/>
<rect x="325.9" y="191.5" width="11.6" height="72.7" fill="none" stroke="#c23656" stroke-width="1" stroke-dasharray="1.8 2.3"/>
<rect x="234.6" y="231.4" width="4.1" height="32.8" fill="#184886" stroke="#0c2a56" stroke-width="0.6"/>
<rect x="242.4" y="211.1" width="4.1" height="53.1" fill="#cc0c2e" stroke="#900a24" stroke-width="0.6"/>
<rect x="256" y="220.2" width="4.1" height="44" fill="#184886" stroke="#0c2a56" stroke-width="0.6"/>
<rect x="263.8" y="213.7" width="4.1" height="50.5" fill="#cc0c2e" stroke="#900a24" stroke-width="0.6"/>
<rect x="285.2" y="237.8" width="4.1" height="26.4" fill="#cc0c2e" stroke="#900a24" stroke-width="0.6"/>
<rect x="298.8" y="231.4" width="4.1" height="32.8" fill="#184886" stroke="#0c2a56" stroke-width="0.6"/>
<rect x="306.6" y="211.1" width="4.1" height="53.1" fill="#cc0c2e" stroke="#900a24" stroke-width="0.6"/>
<rect x="320.2" y="243.5" width="4.1" height="20.7" fill="#184886" stroke="#0c2a56" stroke-width="0.6"/>
<rect x="328" y="237.8" width="4.1" height="26.4" fill="#cc0c2e" stroke="#900a24" stroke-width="0.6"/>
<line x1="229.6" y1="188.5" x2="229.6" y2="264.8" stroke="#1a1a1a" stroke-width="1.2"/>
<path d="M226.8 264.2H229.6M226.8 249.8H229.6M226.8 235.4H229.6M226.8 221H229.6M226.8 206.6H229.6M226.8 192.2H229.6" stroke="#1a1a1a" stroke-width="1.0" fill="none"/>
<path d="M228.1 261.32H229.6M228.1 258.44H229.6M228.1 255.56H229.6M228.1 252.68H229.6M228.1 246.92H229.6M228.1 244.04H229.6M228.1 241.16H229.6M228.1 238.28H229.6M228.1 232.52H229.6M228.1 229.64H229.6M228.1 226.76H229.6M228.1 223.88H229.6M228.1 218.12H229.6M228.1 215.24H229.6M228.1 212.36H229.6M228.1 209.48H229.6M228.1 203.72H229.6M228.1 200.84H229.6M228.1 197.96H229.6M228.1 195.08H229.6" stroke="#1a1a1a" stroke-width="0.8" fill="none"/>
<line x1="227" y1="264.2" x2="337.5" y2="264.2" stroke="#1a1a1a" stroke-width="1.2"/>
<path d="M240.55 264.2V267M261.95 264.2V267M283.35 264.2V267M304.75 264.2V267M326.15 264.2V267" stroke="#444" stroke-width="0.8" fill="none"/>
<text x="223.6" y="266.2" font-size="6" fill="#2a2a2a" stroke="#2a2a2a" stroke-width="0.12" text-anchor="end">500</text>
<text x="223.6" y="251.8" font-size="6" fill="#2a2a2a" stroke="#2a2a2a" stroke-width="0.12" text-anchor="end">750</text>
<text x="223.6" y="237.4" font-size="6" fill="#2a2a2a" stroke="#2a2a2a" stroke-width="0.12" text-anchor="end">1000</text>
<text x="223.6" y="223" font-size="6" fill="#2a2a2a" stroke="#2a2a2a" stroke-width="0.12" text-anchor="end">1250</text>
<text x="223.6" y="208.6" font-size="6" fill="#2a2a2a" stroke="#2a2a2a" stroke-width="0.12" text-anchor="end">1500</text>
<text x="223.6" y="194.2" font-size="6" fill="#2a2a2a" stroke="#2a2a2a" stroke-width="0.12" text-anchor="end">1750</text>
<text transform="translate(204.8,226.35) rotate(-90)" font-size="8" fill="#1a1a1a" stroke="#1a1a1a" stroke-width="0.25" text-anchor="middle" textLength="46.5" lengthAdjust="spacingAndGlyphs">ROR1 binding sites</text>
<text x="195.1" y="228.05" font-size="6" fill="#2a2a2a" stroke="#2a2a2a" stroke-width="0.1" text-anchor="end">Pt. 21</text>
<text transform="translate(239.15,270.7) rotate(-90)" font-size="6.3" fill="#36588c" stroke="#36588c" stroke-width="0.12" text-anchor="end" textLength="15.0" lengthAdjust="spacingAndGlyphs">Day 0</text>
<text transform="translate(246.95,270.7) rotate(-90)" font-size="6.3" fill="#c83a5a" stroke="#c83a5a" stroke-width="0.12" text-anchor="end" textLength="17.9" lengthAdjust="spacingAndGlyphs">Day 29</text>
<text transform="translate(260.55,270.7) rotate(-90)" font-size="6.3" fill="#36588c" stroke="#36588c" stroke-width="0.12" text-anchor="end" textLength="15.0" lengthAdjust="spacingAndGlyphs">Day 0</text>
<text transform="translate(268.35,270.7) rotate(-90)" font-size="6.3" fill="#c83a5a" stroke="#c83a5a" stroke-width="0.12" text-anchor="end" textLength="17.9" lengthAdjust="spacingAndGlyphs">Day 29</text>
<text transform="translate(281.95,270.7) rotate(-90)" font-size="6.3" fill="#36588c" stroke="#36588c" stroke-width="0.12" text-anchor="end" textLength="15.0" lengthAdjust="spacingAndGlyphs">Day 0</text>
<text transform="translate(289.75,270.7) rotate(-90)" font-size="6.3" fill="#c83a5a" stroke="#c83a5a" stroke-width="0.12" text-anchor="end" textLength="17.9" lengthAdjust="spacingAndGlyphs">Day 29</text>
<text transform="translate(303.35,270.7) rotate(-90)" font-size="6.3" fill="#36588c" stroke="#36588c" stroke-width="0.12" text-anchor="end" textLength="15.0" lengthAdjust="spacingAndGlyphs">Day 0</text>
<text transform="translate(311.15,270.7) rotate(-90)" font-size="6.3" fill="#c83a5a" stroke="#c83a5a" stroke-width="0.12" text-anchor="end" textLength="17.9" lengthAdjust="spacingAndGlyphs">Day 29</text>
<text transform="translate(324.75,270.7) rotate(-90)" font-size="6.3" fill="#36588c" stroke="#36588c" stroke-width="0.12" text-anchor="end" textLength="15.0" lengthAdjust="spacingAndGlyphs">Day 0</text>
<text transform="translate(332.55,270.7) rotate(-90)" font-size="6.3" fill="#c83a5a" stroke="#c83a5a" stroke-width="0.12" text-anchor="end" textLength="17.9" lengthAdjust="spacingAndGlyphs">Day 29</text>
<text transform="translate(244.65,296) rotate(-45)" font-size="5.85" fill="#262626" stroke="#262626" stroke-width="0.2" text-anchor="end">Ungated T-ALL</text>
<text transform="translate(265.05,298.3) rotate(-45)" font-size="6.1" fill="#262626" stroke="#262626" stroke-width="0.2" text-anchor="end">CD34<tspan dy="-2.2" font-size="5">+</tspan><tspan dy="2.2">/CD7</tspan><tspan dy="-2.2" font-size="5">+</tspan></text>
<text transform="translate(284.95,298.3) rotate(-45)" font-size="6.1" fill="#262626" stroke="#262626" stroke-width="0.2" text-anchor="end">CD34<tspan dy="-2.2" font-size="5">+</tspan><tspan dy="2.2">/CD7</tspan><tspan dy="-2.2" font-size="5">−</tspan></text>
<text transform="translate(307.85,298.3) rotate(-45)" font-size="6.1" fill="#262626" stroke="#262626" stroke-width="0.2" text-anchor="end">CD34<tspan dy="-2.2" font-size="5">−</tspan><tspan dy="2.2">/CD7</tspan><tspan dy="-2.2" font-size="5">+</tspan></text>
<text transform="translate(327.75,298.3) rotate(-45)" font-size="6.1" fill="#262626" stroke="#262626" stroke-width="0.2" text-anchor="end">CD34<tspan dy="-2.2" font-size="5">−</tspan><tspan dy="2.2">/CD7</tspan><tspan dy="-2.2" font-size="5">−</tspan></text>
<line x1="286.8" y1="193.2" x2="286.8" y2="208" stroke="#cc0c2e" stroke-width="0.85"/>
<path d="M284.25 207L289.35 207L286.8 212Z" fill="#cc0c2e"/>
<rect x="413.4" y="195.3" width="12.1" height="68.9" fill="none" stroke="#c23656" stroke-width="1" stroke-dasharray="1.8 2.3"/>
<rect x="434.9" y="194.5" width="11.4" height="69.7" fill="none" stroke="#c23656" stroke-width="1" stroke-dasharray="1.8 2.3"/>
<rect x="478" y="194.1" width="11.4" height="70.1" fill="none" stroke="#c23656" stroke-width="1" stroke-dasharray="1.8 2.3"/>
<rect x="407.7" y="217.1" width="4.1" height="47.1" fill="#184886" stroke="#0c2a56" stroke-width="0.6"/>
<rect x="415.7" y="213.4" width="4.1" height="50.8" fill="#cc0c2e" stroke="#900a24" stroke-width="0.6"/>
<rect x="429.35" y="216.3" width="4.1" height="47.9" fill="#184886" stroke="#0c2a56" stroke-width="0.6"/>
<rect x="437.35" y="201.3" width="4.1" height="62.9" fill="#cc0c2e" stroke="#900a24" stroke-width="0.6"/>
<rect x="451" y="229.2" width="4.1" height="35" fill="#184886" stroke="#0c2a56" stroke-width="0.6"/>
<rect x="459" y="240" width="4.1" height="24.2" fill="#cc0c2e" stroke="#900a24" stroke-width="0.6"/>
<rect x="472.65" y="219.2" width="4.1" height="45" fill="#184886" stroke="#0c2a56" stroke-width="0.6"/>
<rect x="480.65" y="213.4" width="4.1" height="50.8" fill="#cc0c2e" stroke="#900a24" stroke-width="0.6"/>
<rect x="494.3" y="217.5" width="4.1" height="46.7" fill="#184886" stroke="#0c2a56" stroke-width="0.6"/>
<rect x="502.3" y="240" width="4.1" height="24.2" fill="#cc0c2e" stroke="#900a24" stroke-width="0.6"/>
<line x1="402.4" y1="189" x2="402.4" y2="264.8" stroke="#1a1a1a" stroke-width="1.2"/>
<path d="M399.6 264.2H402.4M399.6 249.9H402.4M399.6 235.6H402.4M399.6 221.3H402.4M399.6 207H402.4M399.6 192.7H402.4" stroke="#1a1a1a" stroke-width="1.0" fill="none"/>
<path d="M400.9 261.34H402.4M400.9 258.48H402.4M400.9 255.62H402.4M400.9 252.76H402.4M400.9 247.04H402.4M400.9 244.18H402.4M400.9 241.32H402.4M400.9 238.46H402.4M400.9 232.74H402.4M400.9 229.88H402.4M400.9 227.02H402.4M400.9 224.16H402.4M400.9 218.44H402.4M400.9 215.58H402.4M400.9 212.72H402.4M400.9 209.86H402.4M400.9 204.14H402.4M400.9 201.28H402.4M400.9 198.42H402.4M400.9 195.56H402.4" stroke="#1a1a1a" stroke-width="0.8" fill="none"/>
<line x1="399.8" y1="264.2" x2="510.5" y2="264.2" stroke="#1a1a1a" stroke-width="1.2"/>
<path d="M413.75 264.2V267M435.4 264.2V267M457.05 264.2V267M478.7 264.2V267M500.35 264.2V267" stroke="#444" stroke-width="0.8" fill="none"/>
<text x="396.4" y="266.2" font-size="6" fill="#2a2a2a" stroke="#2a2a2a" stroke-width="0.12" text-anchor="end">500</text>
<text x="396.4" y="251.9" font-size="6" fill="#2a2a2a" stroke="#2a2a2a" stroke-width="0.12" text-anchor="end">750</text>
<text x="396.4" y="237.6" font-size="6" fill="#2a2a2a" stroke="#2a2a2a" stroke-width="0.12" text-anchor="end">1000</text>
<text x="396.4" y="223.3" font-size="6" fill="#2a2a2a" stroke="#2a2a2a" stroke-width="0.12" text-anchor="end">1250</text>
<text x="396.4" y="209" font-size="6" fill="#2a2a2a" stroke="#2a2a2a" stroke-width="0.12" text-anchor="end">1500</text>
<text x="396.4" y="194.7" font-size="6" fill="#2a2a2a" stroke="#2a2a2a" stroke-width="0.12" text-anchor="end">1750</text>
<text transform="translate(377.6,226.6) rotate(-90)" font-size="8" fill="#1a1a1a" stroke="#1a1a1a" stroke-width="0.25" text-anchor="middle" textLength="46.5" lengthAdjust="spacingAndGlyphs">ROR1 binding sites</text>
<text x="367.9" y="228.3" font-size="6" fill="#2a2a2a" stroke="#2a2a2a" stroke-width="0.1" text-anchor="end">Pt. 24</text>
<text transform="translate(412.25,270.7) rotate(-90)" font-size="6.3" fill="#36588c" stroke="#36588c" stroke-width="0.12" text-anchor="end" textLength="15.0" lengthAdjust="spacingAndGlyphs">Day 0</text>
<text transform="translate(420.25,270.7) rotate(-90)" font-size="6.3" fill="#c83a5a" stroke="#c83a5a" stroke-width="0.12" text-anchor="end" textLength="17.9" lengthAdjust="spacingAndGlyphs">Day 29</text>
<text transform="translate(433.9,270.7) rotate(-90)" font-size="6.3" fill="#36588c" stroke="#36588c" stroke-width="0.12" text-anchor="end" textLength="15.0" lengthAdjust="spacingAndGlyphs">Day 0</text>
<text transform="translate(441.9,270.7) rotate(-90)" font-size="6.3" fill="#c83a5a" stroke="#c83a5a" stroke-width="0.12" text-anchor="end" textLength="17.9" lengthAdjust="spacingAndGlyphs">Day 29</text>
<text transform="translate(455.55,270.7) rotate(-90)" font-size="6.3" fill="#36588c" stroke="#36588c" stroke-width="0.12" text-anchor="end" textLength="15.0" lengthAdjust="spacingAndGlyphs">Day 0</text>
<text transform="translate(463.55,270.7) rotate(-90)" font-size="6.3" fill="#c83a5a" stroke="#c83a5a" stroke-width="0.12" text-anchor="end" textLength="17.9" lengthAdjust="spacingAndGlyphs">Day 29</text>
<text transform="translate(477.2,270.7) rotate(-90)" font-size="6.3" fill="#36588c" stroke="#36588c" stroke-width="0.12" text-anchor="end" textLength="15.0" lengthAdjust="spacingAndGlyphs">Day 0</text>
<text transform="translate(485.2,270.7) rotate(-90)" font-size="6.3" fill="#c83a5a" stroke="#c83a5a" stroke-width="0.12" text-anchor="end" textLength="17.9" lengthAdjust="spacingAndGlyphs">Day 29</text>
<text transform="translate(498.85,270.7) rotate(-90)" font-size="6.3" fill="#36588c" stroke="#36588c" stroke-width="0.12" text-anchor="end" textLength="15.0" lengthAdjust="spacingAndGlyphs">Day 0</text>
<text transform="translate(506.85,270.7) rotate(-90)" font-size="6.3" fill="#c83a5a" stroke="#c83a5a" stroke-width="0.12" text-anchor="end" textLength="17.9" lengthAdjust="spacingAndGlyphs">Day 29</text>
<text transform="translate(417.85,296) rotate(-45)" font-size="5.85" fill="#262626" stroke="#262626" stroke-width="0.2" text-anchor="end">Ungated T-ALL</text>
<text transform="translate(438.5,298.3) rotate(-45)" font-size="6.1" fill="#262626" stroke="#262626" stroke-width="0.2" text-anchor="end">CD34<tspan dy="-2.2" font-size="5">+</tspan><tspan dy="2.2">/CD7</tspan><tspan dy="-2.2" font-size="5">+</tspan></text>
<text transform="translate(458.65,298.3) rotate(-45)" font-size="6.1" fill="#262626" stroke="#262626" stroke-width="0.2" text-anchor="end">CD34<tspan dy="-2.2" font-size="5">+</tspan><tspan dy="2.2">/CD7</tspan><tspan dy="-2.2" font-size="5">−</tspan></text>
<text transform="translate(481.8,298.3) rotate(-45)" font-size="6.1" fill="#262626" stroke="#262626" stroke-width="0.2" text-anchor="end">CD34<tspan dy="-2.2" font-size="5">−</tspan><tspan dy="2.2">/CD7</tspan><tspan dy="-2.2" font-size="5">+</tspan></text>
<text transform="translate(501.95,298.3) rotate(-45)" font-size="6.1" fill="#262626" stroke="#262626" stroke-width="0.2" text-anchor="end">CD34<tspan dy="-2.2" font-size="5">−</tspan><tspan dy="2.2">/CD7</tspan><tspan dy="-2.2" font-size="5">−</tspan></text>
<rect x="259.1" y="348.5" width="14.7" height="72.1" fill="none" stroke="#c23656" stroke-width="1" stroke-dasharray="1.8 2.3"/>
<rect x="280.5" y="348.5" width="15" height="72.1" fill="none" stroke="#c23656" stroke-width="1" stroke-dasharray="1.8 2.3"/>
<rect x="233.4" y="387.4" width="3.3" height="33.2" fill="#184886" stroke="#0c2a56" stroke-width="0.6"/>
<rect x="239.4" y="394.2" width="3.3" height="26.4" fill="#cc0c2e" stroke="#900a24" stroke-width="0.6"/>
<rect x="245.2" y="393" width="3.3" height="27.6" fill="#34a834" stroke="#237823" stroke-width="0.6"/>
<rect x="255" y="393.7" width="3.3" height="26.9" fill="#184886" stroke="#0c2a56" stroke-width="0.6"/>
<rect x="261" y="388.2" width="3.3" height="32.4" fill="#cc0c2e" stroke="#900a24" stroke-width="0.6"/>
<rect x="266.8" y="385.3" width="3.3" height="35.3" fill="#34a834" stroke="#237823" stroke-width="0.6"/>
<rect x="276.6" y="407.8" width="3.3" height="12.8" fill="#184886" stroke="#0c2a56" stroke-width="0.6"/>
<rect x="282.6" y="404.4" width="3.3" height="16.2" fill="#cc0c2e" stroke="#900a24" stroke-width="0.6"/>
<rect x="288.4" y="400.1" width="3.3" height="20.5" fill="#34a834" stroke="#237823" stroke-width="0.6"/>
<rect x="298.2" y="387.7" width="3.3" height="32.9" fill="#184886" stroke="#0c2a56" stroke-width="0.6"/>
<rect x="304.2" y="393.7" width="3.3" height="26.9" fill="#cc0c2e" stroke="#900a24" stroke-width="0.6"/>
<rect x="310" y="392.8" width="3.3" height="27.8" fill="#34a834" stroke="#237823" stroke-width="0.6"/>
<rect x="319.8" y="400.5" width="3.3" height="20.1" fill="#184886" stroke="#0c2a56" stroke-width="0.6"/>
<rect x="325.8" y="403.5" width="3.3" height="17.1" fill="#cc0c2e" stroke="#900a24" stroke-width="0.6"/>
<rect x="331.6" y="401" width="3.3" height="19.6" fill="#34a834" stroke="#237823" stroke-width="0.6"/>
<line x1="229.1" y1="346" x2="229.1" y2="421.2" stroke="#1a1a1a" stroke-width="1.2"/>
<path d="M226.3 420.6H229.1M226.3 406.42H229.1M226.3 392.24H229.1M226.3 378.06H229.1M226.3 363.88H229.1M226.3 349.7H229.1" stroke="#1a1a1a" stroke-width="1.0" fill="none"/>
<path d="M227.6 417.76H229.1M227.6 414.93H229.1M227.6 412.09H229.1M227.6 409.26H229.1M227.6 403.58H229.1M227.6 400.75H229.1M227.6 397.91H229.1M227.6 395.08H229.1M227.6 389.4H229.1M227.6 386.57H229.1M227.6 383.73H229.1M227.6 380.9H229.1M227.6 375.22H229.1M227.6 372.39H229.1M227.6 369.55H229.1M227.6 366.72H229.1M227.6 361.04H229.1M227.6 358.21H229.1M227.6 355.37H229.1M227.6 352.54H229.1" stroke="#1a1a1a" stroke-width="0.8" fill="none"/>
<line x1="226.5" y1="420.6" x2="337.5" y2="420.6" stroke="#1a1a1a" stroke-width="1.2"/>
<path d="M240.95 420.6V423.4M262.55 420.6V423.4M284.15 420.6V423.4M305.75 420.6V423.4M327.35 420.6V423.4" stroke="#444" stroke-width="0.8" fill="none"/>
<text x="223.1" y="422.6" font-size="6" fill="#2a2a2a" stroke="#2a2a2a" stroke-width="0.12" text-anchor="end">500</text>
<text x="223.1" y="408.42" font-size="6" fill="#2a2a2a" stroke="#2a2a2a" stroke-width="0.12" text-anchor="end">750</text>
<text x="223.1" y="394.24" font-size="6" fill="#2a2a2a" stroke="#2a2a2a" stroke-width="0.12" text-anchor="end">1000</text>
<text x="223.1" y="380.06" font-size="6" fill="#2a2a2a" stroke="#2a2a2a" stroke-width="0.12" text-anchor="end">1250</text>
<text x="223.1" y="365.88" font-size="6" fill="#2a2a2a" stroke="#2a2a2a" stroke-width="0.12" text-anchor="end">1500</text>
<text x="223.1" y="351.7" font-size="6" fill="#2a2a2a" stroke="#2a2a2a" stroke-width="0.12" text-anchor="end">1750</text>
<text transform="translate(204.3,383.3) rotate(-90)" font-size="8" fill="#1a1a1a" stroke="#1a1a1a" stroke-width="0.25" text-anchor="middle" textLength="46.5" lengthAdjust="spacingAndGlyphs">ROR1 binding sites</text>
<text x="194.6" y="385" font-size="6" fill="#2a2a2a" stroke="#2a2a2a" stroke-width="0.1" text-anchor="end">Pt. 22</text>
<text transform="translate(235.75,427.1) rotate(-90)" font-size="5.5" fill="#36588c" stroke="#36588c" stroke-width="0.12" text-anchor="end" textLength="15.0" lengthAdjust="spacingAndGlyphs">Day 0</text>
<text transform="translate(242.6,427.1) rotate(-90)" font-size="5.5" fill="#c83a5a" stroke="#c83a5a" stroke-width="0.12" text-anchor="end" textLength="17.9" lengthAdjust="spacingAndGlyphs">Day 29</text>
<text transform="translate(248.75,427.1) rotate(-90)" font-size="5.5" fill="#46a63c" stroke="#46a63c" stroke-width="0.12" text-anchor="end" textLength="16.4" lengthAdjust="spacingAndGlyphs">Wk 14</text>
<text transform="translate(257.35,427.1) rotate(-90)" font-size="5.5" fill="#36588c" stroke="#36588c" stroke-width="0.12" text-anchor="end" textLength="15.0" lengthAdjust="spacingAndGlyphs">Day 0</text>
<text transform="translate(264.2,427.1) rotate(-90)" font-size="5.5" fill="#c83a5a" stroke="#c83a5a" stroke-width="0.12" text-anchor="end" textLength="17.9" lengthAdjust="spacingAndGlyphs">Day 29</text>
<text transform="translate(270.35,427.1) rotate(-90)" font-size="5.5" fill="#46a63c" stroke="#46a63c" stroke-width="0.12" text-anchor="end" textLength="16.4" lengthAdjust="spacingAndGlyphs">Wk 14</text>
<text transform="translate(278.95,427.1) rotate(-90)" font-size="5.5" fill="#36588c" stroke="#36588c" stroke-width="0.12" text-anchor="end" textLength="15.0" lengthAdjust="spacingAndGlyphs">Day 0</text>
<text transform="translate(285.8,427.1) rotate(-90)" font-size="5.5" fill="#c83a5a" stroke="#c83a5a" stroke-width="0.12" text-anchor="end" textLength="17.9" lengthAdjust="spacingAndGlyphs">Day 29</text>
<text transform="translate(291.95,427.1) rotate(-90)" font-size="5.5" fill="#46a63c" stroke="#46a63c" stroke-width="0.12" text-anchor="end" textLength="16.4" lengthAdjust="spacingAndGlyphs">Wk 14</text>
<text transform="translate(300.55,427.1) rotate(-90)" font-size="5.5" fill="#36588c" stroke="#36588c" stroke-width="0.12" text-anchor="end" textLength="15.0" lengthAdjust="spacingAndGlyphs">Day 0</text>
<text transform="translate(307.4,427.1) rotate(-90)" font-size="5.5" fill="#c83a5a" stroke="#c83a5a" stroke-width="0.12" text-anchor="end" textLength="17.9" lengthAdjust="spacingAndGlyphs">Day 29</text>
<text transform="translate(313.55,427.1) rotate(-90)" font-size="5.5" fill="#46a63c" stroke="#46a63c" stroke-width="0.12" text-anchor="end" textLength="16.4" lengthAdjust="spacingAndGlyphs">Wk 14</text>
<text transform="translate(322.15,427.1) rotate(-90)" font-size="5.5" fill="#36588c" stroke="#36588c" stroke-width="0.12" text-anchor="end" textLength="15.0" lengthAdjust="spacingAndGlyphs">Day 0</text>
<text transform="translate(329,427.1) rotate(-90)" font-size="5.5" fill="#c83a5a" stroke="#c83a5a" stroke-width="0.12" text-anchor="end" textLength="17.9" lengthAdjust="spacingAndGlyphs">Day 29</text>
<text transform="translate(335.15,427.1) rotate(-90)" font-size="5.5" fill="#46a63c" stroke="#46a63c" stroke-width="0.12" text-anchor="end" textLength="16.4" lengthAdjust="spacingAndGlyphs">Wk 14</text>
<text transform="translate(245.05,452.4) rotate(-45)" font-size="5.85" fill="#262626" stroke="#262626" stroke-width="0.2" text-anchor="end">Ungated T-ALL</text>
<text transform="translate(265.65,454.7) rotate(-45)" font-size="6.1" fill="#262626" stroke="#262626" stroke-width="0.2" text-anchor="end">CD34<tspan dy="-2.2" font-size="5">+</tspan><tspan dy="2.2">/CD7</tspan><tspan dy="-2.2" font-size="5">+</tspan></text>
<text transform="translate(285.75,454.7) rotate(-45)" font-size="6.1" fill="#262626" stroke="#262626" stroke-width="0.2" text-anchor="end">CD34<tspan dy="-2.2" font-size="5">+</tspan><tspan dy="2.2">/CD7</tspan><tspan dy="-2.2" font-size="5">−</tspan></text>
<text transform="translate(308.85,454.7) rotate(-45)" font-size="6.1" fill="#262626" stroke="#262626" stroke-width="0.2" text-anchor="end">CD34<tspan dy="-2.2" font-size="5">−</tspan><tspan dy="2.2">/CD7</tspan><tspan dy="-2.2" font-size="5">+</tspan></text>
<text transform="translate(328.95,454.7) rotate(-45)" font-size="6.1" fill="#262626" stroke="#262626" stroke-width="0.2" text-anchor="end">CD34<tspan dy="-2.2" font-size="5">−</tspan><tspan dy="2.2">/CD7</tspan><tspan dy="-2.2" font-size="5">−</tspan></text>
<rect x="410.8" y="350.4" width="15.3" height="70.3" fill="none" stroke="#c23656" stroke-width="1" stroke-dasharray="1.8 2.3"/>
<rect x="432.4" y="350.4" width="14.2" height="70.3" fill="none" stroke="#c23656" stroke-width="1" stroke-dasharray="1.8 2.3"/>
<rect x="453.2" y="350.4" width="15.3" height="70.3" fill="none" stroke="#c23656" stroke-width="1" stroke-dasharray="1.8 2.3"/>
<rect x="475.3" y="350.4" width="14.8" height="70.3" fill="none" stroke="#c23656" stroke-width="1" stroke-dasharray="1.8 2.3"/>
<rect x="406.4" y="398.4" width="3.3" height="22.3" fill="#184886" stroke="#0c2a56" stroke-width="0.6"/>
<rect x="412.1" y="392.5" width="3.3" height="28.2" fill="#cc0c2e" stroke="#900a24" stroke-width="0.6"/>
<rect x="417.9" y="379.4" width="3.3" height="41.3" fill="#34a834" stroke="#237823" stroke-width="0.6"/>
<rect x="427.95" y="401.5" width="3.3" height="19.2" fill="#184886" stroke="#0c2a56" stroke-width="0.6"/>
<rect x="433.65" y="389.9" width="3.3" height="30.8" fill="#cc0c2e" stroke="#900a24" stroke-width="0.6"/>
<rect x="439.45" y="387.4" width="3.3" height="33.3" fill="#34a834" stroke="#237823" stroke-width="0.6"/>
<rect x="449.5" y="406.9" width="3.3" height="13.8" fill="#184886" stroke="#0c2a56" stroke-width="0.6"/>
<rect x="455.2" y="402.7" width="3.3" height="18" fill="#cc0c2e" stroke="#900a24" stroke-width="0.6"/>
<rect x="461" y="398.1" width="3.3" height="22.6" fill="#34a834" stroke="#237823" stroke-width="0.6"/>
<rect x="471.05" y="397.6" width="3.3" height="23.1" fill="#184886" stroke="#0c2a56" stroke-width="0.6"/>
<rect x="476.75" y="391.6" width="3.3" height="29.1" fill="#cc0c2e" stroke="#900a24" stroke-width="0.6"/>
<rect x="482.55" y="377.5" width="3.3" height="43.2" fill="#34a834" stroke="#237823" stroke-width="0.6"/>
<rect x="492.6" y="387.9" width="3.3" height="32.8" fill="#184886" stroke="#0c2a56" stroke-width="0.6"/>
<rect x="498.3" y="401.5" width="3.3" height="19.2" fill="#cc0c2e" stroke="#900a24" stroke-width="0.6"/>
<rect x="504.1" y="400.1" width="3.3" height="20.6" fill="#34a834" stroke="#237823" stroke-width="0.6"/>
<line x1="402.3" y1="346" x2="402.3" y2="421.3" stroke="#1a1a1a" stroke-width="1.2"/>
<path d="M399.5 420.7H402.3M399.5 406.5H402.3M399.5 392.3H402.3M399.5 378.1H402.3M399.5 363.9H402.3M399.5 349.7H402.3" stroke="#1a1a1a" stroke-width="1.0" fill="none"/>
<path d="M400.8 417.86H402.3M400.8 415.02H402.3M400.8 412.18H402.3M400.8 409.34H402.3M400.8 403.66H402.3M400.8 400.82H402.3M400.8 397.98H402.3M400.8 395.14H402.3M400.8 389.46H402.3M400.8 386.62H402.3M400.8 383.78H402.3M400.8 380.94H402.3M400.8 375.26H402.3M400.8 372.42H402.3M400.8 369.58H402.3M400.8 366.74H402.3M400.8 361.06H402.3M400.8 358.22H402.3M400.8 355.38H402.3M400.8 352.54H402.3" stroke="#1a1a1a" stroke-width="0.8" fill="none"/>
<line x1="399.7" y1="420.7" x2="510.5" y2="420.7" stroke="#1a1a1a" stroke-width="1.2"/>
<path d="M413.8 420.7V423.5M435.35 420.7V423.5M456.9 420.7V423.5M478.45 420.7V423.5M500 420.7V423.5" stroke="#444" stroke-width="0.8" fill="none"/>
<text x="396.3" y="422.7" font-size="6" fill="#2a2a2a" stroke="#2a2a2a" stroke-width="0.12" text-anchor="end">500</text>
<text x="396.3" y="408.5" font-size="6" fill="#2a2a2a" stroke="#2a2a2a" stroke-width="0.12" text-anchor="end">750</text>
<text x="396.3" y="394.3" font-size="6" fill="#2a2a2a" stroke="#2a2a2a" stroke-width="0.12" text-anchor="end">1000</text>
<text x="396.3" y="380.1" font-size="6" fill="#2a2a2a" stroke="#2a2a2a" stroke-width="0.12" text-anchor="end">1250</text>
<text x="396.3" y="365.9" font-size="6" fill="#2a2a2a" stroke="#2a2a2a" stroke-width="0.12" text-anchor="end">1500</text>
<text x="396.3" y="351.7" font-size="6" fill="#2a2a2a" stroke="#2a2a2a" stroke-width="0.12" text-anchor="end">1750</text>
<text transform="translate(377.5,383.35) rotate(-90)" font-size="8" fill="#1a1a1a" stroke="#1a1a1a" stroke-width="0.25" text-anchor="middle" textLength="46.5" lengthAdjust="spacingAndGlyphs">ROR1 binding sites</text>
<text x="367.8" y="385.05" font-size="6" fill="#2a2a2a" stroke="#2a2a2a" stroke-width="0.1" text-anchor="end">Pt. 27</text>
<text transform="translate(408.75,427.2) rotate(-90)" font-size="5.5" fill="#36588c" stroke="#36588c" stroke-width="0.12" text-anchor="end" textLength="15.0" lengthAdjust="spacingAndGlyphs">Day 0</text>
<text transform="translate(415.3,427.2) rotate(-90)" font-size="5.5" fill="#c83a5a" stroke="#c83a5a" stroke-width="0.12" text-anchor="end" textLength="17.9" lengthAdjust="spacingAndGlyphs">Day 29</text>
<text transform="translate(421.45,427.2) rotate(-90)" font-size="5.5" fill="#46a63c" stroke="#46a63c" stroke-width="0.12" text-anchor="end" textLength="16.4" lengthAdjust="spacingAndGlyphs">Wk 14</text>
<text transform="translate(430.3,427.2) rotate(-90)" font-size="5.5" fill="#36588c" stroke="#36588c" stroke-width="0.12" text-anchor="end" textLength="15.0" lengthAdjust="spacingAndGlyphs">Day 0</text>
<text transform="translate(436.85,427.2) rotate(-90)" font-size="5.5" fill="#c83a5a" stroke="#c83a5a" stroke-width="0.12" text-anchor="end" textLength="17.9" lengthAdjust="spacingAndGlyphs">Day 29</text>
<text transform="translate(443,427.2) rotate(-90)" font-size="5.5" fill="#46a63c" stroke="#46a63c" stroke-width="0.12" text-anchor="end" textLength="16.4" lengthAdjust="spacingAndGlyphs">Wk 14</text>
<text transform="translate(451.85,427.2) rotate(-90)" font-size="5.5" fill="#36588c" stroke="#36588c" stroke-width="0.12" text-anchor="end" textLength="15.0" lengthAdjust="spacingAndGlyphs">Day 0</text>
<text transform="translate(458.4,427.2) rotate(-90)" font-size="5.5" fill="#c83a5a" stroke="#c83a5a" stroke-width="0.12" text-anchor="end" textLength="17.9" lengthAdjust="spacingAndGlyphs">Day 29</text>
<text transform="translate(464.55,427.2) rotate(-90)" font-size="5.5" fill="#46a63c" stroke="#46a63c" stroke-width="0.12" text-anchor="end" textLength="16.4" lengthAdjust="spacingAndGlyphs">Wk 14</text>
<text transform="translate(473.4,427.2) rotate(-90)" font-size="5.5" fill="#36588c" stroke="#36588c" stroke-width="0.12" text-anchor="end" textLength="15.0" lengthAdjust="spacingAndGlyphs">Day 0</text>
<text transform="translate(479.95,427.2) rotate(-90)" font-size="5.5" fill="#c83a5a" stroke="#c83a5a" stroke-width="0.12" text-anchor="end" textLength="17.9" lengthAdjust="spacingAndGlyphs">Day 29</text>
<text transform="translate(486.1,427.2) rotate(-90)" font-size="5.5" fill="#46a63c" stroke="#46a63c" stroke-width="0.12" text-anchor="end" textLength="16.4" lengthAdjust="spacingAndGlyphs">Wk 14</text>
<text transform="translate(494.95,427.2) rotate(-90)" font-size="5.5" fill="#36588c" stroke="#36588c" stroke-width="0.12" text-anchor="end" textLength="15.0" lengthAdjust="spacingAndGlyphs">Day 0</text>
<text transform="translate(501.5,427.2) rotate(-90)" font-size="5.5" fill="#c83a5a" stroke="#c83a5a" stroke-width="0.12" text-anchor="end" textLength="17.9" lengthAdjust="spacingAndGlyphs">Day 29</text>
<text transform="translate(507.65,427.2) rotate(-90)" font-size="5.5" fill="#46a63c" stroke="#46a63c" stroke-width="0.12" text-anchor="end" textLength="16.4" lengthAdjust="spacingAndGlyphs">Wk 14</text>
<text transform="translate(417.9,452.5) rotate(-45)" font-size="5.85" fill="#262626" stroke="#262626" stroke-width="0.2" text-anchor="end">Ungated T-ALL</text>
<text transform="translate(438.45,454.8) rotate(-45)" font-size="6.1" fill="#262626" stroke="#262626" stroke-width="0.2" text-anchor="end">CD34<tspan dy="-2.2" font-size="5">+</tspan><tspan dy="2.2">/CD7</tspan><tspan dy="-2.2" font-size="5">+</tspan></text>
<text transform="translate(458.5,454.8) rotate(-45)" font-size="6.1" fill="#262626" stroke="#262626" stroke-width="0.2" text-anchor="end">CD34<tspan dy="-2.2" font-size="5">+</tspan><tspan dy="2.2">/CD7</tspan><tspan dy="-2.2" font-size="5">−</tspan></text>
<text transform="translate(481.55,454.8) rotate(-45)" font-size="6.1" fill="#262626" stroke="#262626" stroke-width="0.2" text-anchor="end">CD34<tspan dy="-2.2" font-size="5">−</tspan><tspan dy="2.2">/CD7</tspan><tspan dy="-2.2" font-size="5">+</tspan></text>
<text transform="translate(501.6,454.8) rotate(-45)" font-size="6.1" fill="#262626" stroke="#262626" stroke-width="0.2" text-anchor="end">CD34<tspan dy="-2.2" font-size="5">−</tspan><tspan dy="2.2">/CD7</tspan><tspan dy="-2.2" font-size="5">−</tspan></text>
</svg>
<div class="bd"></div>
</body></html>
